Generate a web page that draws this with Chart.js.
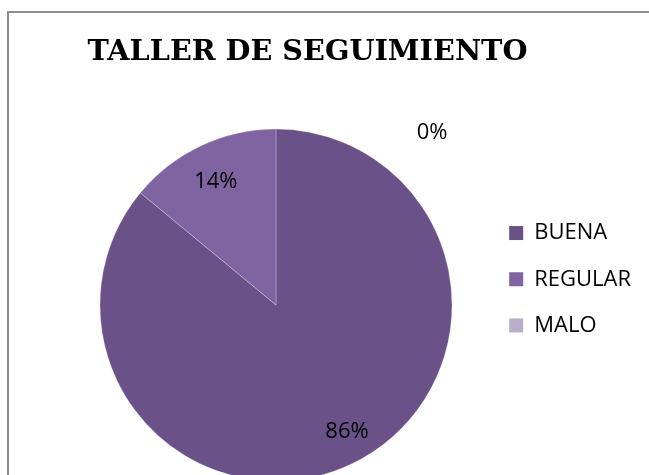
<!DOCTYPE html>
<html>
<head>
<meta charset="utf-8">
<script src="https://cdn.jsdelivr.net/npm/chart.js@4/dist/chart.umd.min.js"></script>
<style>
  html, body { margin: 0; padding: 0; overflow: hidden; background: #fff; }
  #frame {
    position: absolute; left: 7px; top: 11px; width: 700px; height: 500px;
    border-top: 2px solid #8d8d8d; border-left: 2px solid #8d8d8d;
    pointer-events: none;
  }
  #myChart { position: absolute; left: -20px; top: 0; }
</style>
</head>
<body>
<canvas id="myChart" width="655" height="481"></canvas>
<div id="frame"></div>
<script>
const categories = ["BUENA", "REGULAR", "MALO"];
const values = [86, 14, 0];
const sliceColors = ["#6a5289", "#8064a2", "#b8aecb"];

// where each percent label sits: fraction of the radius, angle nudge in degrees
const labelRadius = [0.827, 0.78, 1.32];
const labelNudge = [-4, -0.8, 42.2];

const textFont = "'Open Sans', sans-serif";

const percentLabels = {
    id: "percentLabels",
    afterDatasetsDraw(chart) {
        const ctx = chart.ctx;
        const meta = chart.getDatasetMeta(0);
        const total = values.reduce((a, b) => a + b, 0);
        ctx.save();
        ctx.font = "22px " + textFont;
        ctx.fillStyle = "#000";
        ctx.textAlign = "center";
        ctx.textBaseline = "middle";
        meta.data.forEach((arc, i) => {
            const p = arc.getProps(["x", "y", "startAngle", "endAngle", "outerRadius"], true);
            const mid = (p.startAngle + p.endAngle) / 2 + labelNudge[i] * Math.PI / 180;
            const r = p.outerRadius * labelRadius[i];
            const txt = Math.round(values[i] / total * 100) + "%";
            ctx.fillText(txt, p.x + Math.cos(mid) * r, p.y + Math.sin(mid) * r);
        });
        ctx.restore();
    }
};

const data = {
    labels: categories,
    datasets: [
        {
            data: values,
            backgroundColor: sliceColors,
            borderColor: "rgba(255,255,255,0.25)",
            borderWidth: 1,
            hoverOffset: 0,
            radius: 176,
        },
    ],
};

const config = {
    type: "pie",
    data,
    options: {
        responsive: false,
        animation: false,
        devicePixelRatio: 1,
        layout: { padding: 0 },
        plugins: {
            title: {
                display: true,
                text: "TALLER DE SEGUIMIENTO",
                align: "center",
                color: "#000",
                font: { family: "'DejaVu Serif', serif", size: 28.7, weight: "bold", lineHeight: 1.2 },
                padding: { top: 35, bottom: 59.6 },
            },
            // empty left box, only keeps the pie off the title's centre line
            subtitle: {
                display: true,
                position: "left",
                fullSize: false,
                text: " ",
                font: { size: 10, lineHeight: 1.2 },
                padding: { top: 0, bottom: 75 },
            },
            legend: {
                position: "right",
                align: "start",
                fullSize: false,
                maxWidth: 150,
                title: {
                    display: true,
                    text: " ",
                    font: { size: 10, lineHeight: 1.2 },
                    padding: { top: 0, bottom: 56.8 },
                },
                labels: {
                    boxWidth: 14,
                    boxHeight: 14,
                    padding: 24.2,
                    font: { family: textFont, size: 22 },
                    generateLabels: () =>
                        categories.map((c, i) => ({
                            text: c,
                            fillStyle: sliceColors[i],
                            strokeStyle: sliceColors[i],
                            fontColor: "#000",
                            lineWidth: 0,
                            hidden: false,
                            index: i,
                        })),
                },
            },
            tooltip: { enabled: false },
        },
    },
    plugins: [percentLabels],
};

var myChart = new Chart(document.getElementById("myChart"), config);
</script>
</body>
</html>
